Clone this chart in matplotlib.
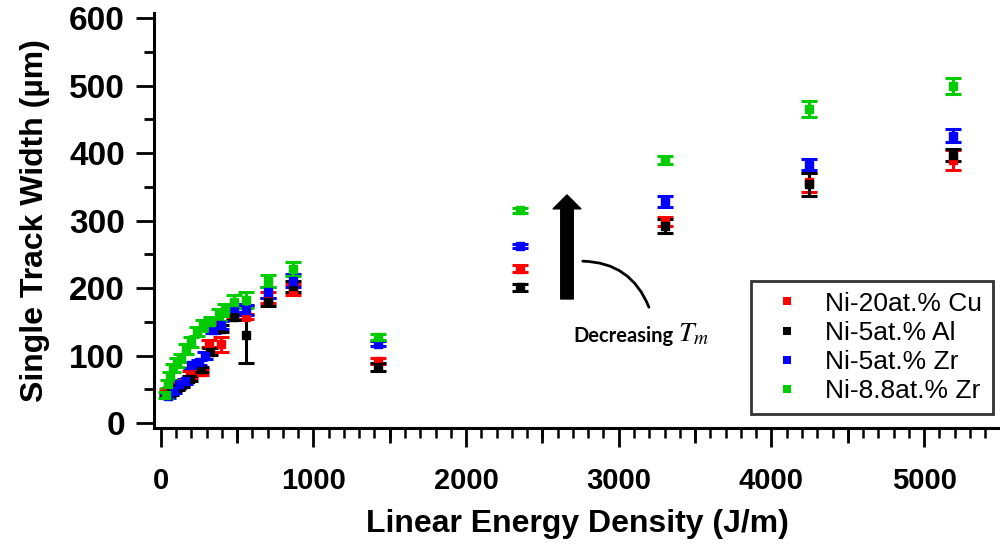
import matplotlib
matplotlib.use("Agg")
import matplotlib.pyplot as plt
from matplotlib.lines import Line2D
from matplotlib.patches import FancyArrowPatch
from matplotlib.ticker import MultipleLocator, FixedLocator, NullFormatter

plt.rcParams['font.family'] = ['Liberation Sans', 'DejaVu Sans']
plt.rcParams['mathtext.fontset'] = 'stix'

# ---------------- data ----------------
labels = ["Ni-20at.% Cu", "Ni-5at.% Al", "Ni-5at.% Zr", "Ni-8.8at.% Zr"]
colors = ["#ff0000", "#000000", "#0000ff", "#00cc00"]

red_x = [40, 70, 105, 140, 195, 265, 315, 360, 395, 480, 556, 705, 868, 1425, 2353, 3302, 4245, 5188]
red_y = [46, 49, 55, 60, 72, 76, 118, 146, 117, 160, 158, 186, 198, 92, 229, 299, 357, 390]
red_e = [4, 4, 4, 4, 5, 5, 5, 5, 11, 5, 4, 8, 8, 5, 5, 7, 14, 15]

black_x = [40, 70, 105, 140, 195, 265, 320, 395, 480, 556, 705, 868, 1425, 2353, 3302, 4245, 5188]
black_y = [42, 45, 52, 56, 66, 80, 106, 140, 158, 131, 180, 203, 83, 201, 292, 354, 397]
black_e = [3, 3, 3, 3, 4, 4, 5, 5, 5, 42, 6, 8, 6, 5, 11, 17, 9]

blue_x = [50, 85, 120, 160, 200, 250, 290, 340, 395, 480, 556, 705, 868, 1425, 2353, 3302, 4245, 5188]
blue_y = [41, 48, 58, 62, 86, 90, 100, 138, 145, 170, 168, 194, 211, 118, 262, 328, 383, 426]
blue_e = [3, 3, 4, 4, 4, 4, 5, 5, 6, 6, 7, 8, 10, 4, 3, 8, 8, 10]

green_x = [35, 45, 60, 80, 105, 135, 165, 200, 240, 280, 330, 380, 420, 480, 556, 705, 868, 1425, 2353, 3302, 4245, 5188]
green_y = [42, 58, 70, 82, 90, 96, 110, 120, 136, 145, 150, 160, 168, 180, 183, 211, 228, 128, 315, 390, 465, 499]
green_e = [4, 6, 6, 6, 6, 6, 7, 7, 7, 8, 8, 9, 9, 10, 12, 9, 10, 4, 4, 6, 12, 12]

x_ticks = [0, 1000, 2000, 3000, 4000, 5000]
y_ticks = [0, 100, 200, 300, 400, 500, 600]

series = [(red_x, red_y, red_e), (black_x, black_y, black_e),
          (blue_x, blue_y, blue_e), (green_x, green_y, green_e)]

# ---------------- figure ----------------
fig = plt.figure(figsize=(10, 5.45), dpi=100)
ax = fig.add_axes([0.154, 0.2147, 0.846, 0.761])

for (xs, ys, es), c in zip(series, colors):
    ax.errorbar(xs, ys, yerr=es, fmt='s', color=c, ms=5.5, mec=c, mfc=c,
                ecolor=c, elinewidth=2.2, capsize=5.8, capthick=2.2, zorder=3)

ax.set_xlim(-44, 5497)
ax.set_ylim(-7, 607)

for s in ['top', 'right']:
    ax.spines[s].set_visible(False)
for s in ['left', 'bottom']:
    ax.spines[s].set_linewidth(2.2)

ax.xaxis.set_major_locator(FixedLocator(x_ticks))
ax.xaxis.set_minor_locator(MultipleLocator(100))
ax.yaxis.set_major_locator(FixedLocator(y_ticks))
ax.yaxis.set_minor_locator(MultipleLocator(50))

ax.tick_params(axis='x', which='major', direction='out', length=14, width=2,
               labelsize=21, pad=14)
ax.tick_params(axis='x', which='minor', direction='out', length=7, width=1.8)
ax.tick_params(axis='y', which='major', direction='out', length=13, width=2,
               labelsize=24, pad=8)
ax.tick_params(axis='y', which='minor', direction='out', length=7, width=2)
for lab in ax.get_xticklabels() + ax.get_yticklabels():
    lab.set_fontweight('bold')

# medium ticks at the half thousands
sec = ax.secondary_xaxis('bottom')
sec.set_xticks([500, 1500, 2500, 3500, 4500, 5500])
sec.xaxis.set_major_formatter(NullFormatter())
sec.tick_params(axis='x', direction='out', length=10.5, width=2)
sec.spines['bottom'].set_visible(False)

ax.set_xlabel("Linear Energy Density (J/m)", fontsize=23, fontweight='bold', labelpad=10)
ax.set_ylabel("Single Track Width (\u00b5m)", fontsize=23, fontweight='bold', labelpad=14)

# annotation: arrow and curve
ax.annotate('', xy=(2661, 338), xytext=(2661, 184),
            arrowprops=dict(facecolor='black', edgecolor='black', width=9,
                            headwidth=20, headlength=10, shrink=0), zorder=4)
curve = FancyArrowPatch((2746, 240), (3204, 168), connectionstyle='arc3,rad=-0.35',
                        arrowstyle='-', lw=2, color='black', zorder=4)
ax.add_patch(curve)
ax.text(2700, 121, "Decreasing", fontsize=14.5, fontweight='bold',
        family=['Lato', 'DejaVu Sans'], ha='left', va='baseline')
ax.text(3385, 121, r"$T_m$", fontsize=20, ha='left', va='baseline')

# legend
handles = [Line2D([], [], marker='s', linestyle='none', color=c, ms=6, mew=0)
           for c in colors]
leg = fig.legend(handles, labels, loc='lower right', bbox_to_anchor=(0.993, 0.2404),
                 fontsize=19, frameon=True, fancybox=False, borderpad=0.4,
                 labelspacing=0.2, handlelength=2.0, handletextpad=0.44,
                 borderaxespad=0)
leg.get_frame().set_edgecolor('black')
leg.get_frame().set_linewidth(2)

fig.savefig("out.png", dpi=100)
